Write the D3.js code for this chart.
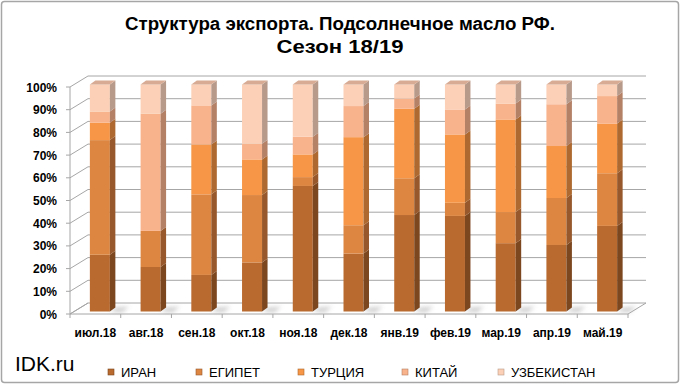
<!DOCTYPE html>
<html><head><meta charset="utf-8">
<script src="https://cdn.jsdelivr.net/npm/d3@7/dist/d3.min.js"></script>
<style>
html,body{margin:0;padding:0;background:#fff;}
svg{display:block;}
</style></head>
<body>
<svg id="c" width="680" height="384"></svg>
<script>
const titleLines = ["Структура экспорта. Подсолнечное масло РФ.", "Сезон 18/19"];
const categories = ["июл.18","авг.18","сен.18","окт.18","ноя.18","дек.18","янв.19","фев.19","мар.19","апр.19","май.19"];
const seriesNames = ["ИРАН","ЕГИПЕТ","ТУРЦИЯ","КИТАЙ","УЗБЕКИСТАН"];
const iran   = [25.0, 19.6, 16.1, 21.6, 55.3, 25.5, 42.5, 42.1, 30.1, 29.3, 37.7];
const egypt  = [50.5, 15.9, 35.5, 29.7,  3.9, 12.5, 16.2,  5.8, 13.7, 20.7, 23.2];
const turkey = [ 7.7,  0.0, 22.0, 15.7, 10.0, 38.8, 30.6, 30.1, 40.8, 22.9, 21.9];
const china  = [ 4.9, 51.6, 17.2,  6.9,  7.8, 13.7,  4.5, 11.0,  7.0, 18.4, 12.1];
const uzbek  = [11.9, 12.9,  9.2, 26.1, 23.0,  9.5,  6.2, 11.0,  8.4,  8.7,  5.1];
const yTicks = [0,0.1,0.2,0.3,0.4,0.5,0.6,0.7,0.8,0.9,1];

const frontColors = ["#b96a2f","#dc8642","#f79646","#f9b38c","#fcd0b6"];
const sideColors  = ["#7c461f","#97592b","#ad692f","#b48066","#b89a8a"];
const topColors   = ["#a86a45","#c08660","#cf9a78","#d4a48a","#d8ab94"];

const svg = d3.select("#c");
const F = "'Liberation Sans', Arial, sans-serif";

// border
svg.append("rect").attr("x",1.5).attr("y",1.5).attr("width",677).attr("height",381)
  .attr("rx",3).attr("fill","#fff").attr("stroke","#a6a6a6").attr("stroke-width",1.5);

// title
const tw = [430, 127];
titleLines.forEach((t,i)=>{
  svg.append("text").attr("x",340).attr("y",30 + i*23).attr("text-anchor","middle")
    .attr("font-family",F).attr("font-weight","bold").attr("font-size",18)
    .attr("textLength",tw[i]).attr("lengthAdjust","spacingAndGlyphs")
    .attr("fill","#000").text(t);
});

// geometry
const x0 = 70, x1 = 628, yBottom = 314, yTop = 87;
const DX = 18, DY = -11;           // wall depth
const BX = 4.5, BY = -2.5;          // bar front offset from front plane
const PX = 5.5, PY = -4;            // bar depth

const xScale = d3.scaleBand().domain(categories).range([x0, x1]);
const yScale = d3.scaleLinear().domain([0,1]).range([yBottom, yTop]);
const barW = 20;

const table = categories.map((c,i)=>({cat:c, "ИРАН":iran[i], "ЕГИПЕТ":egypt[i], "ТУРЦИЯ":turkey[i], "КИТАЙ":china[i], "УЗБЕКИСТАН":uzbek[i]}));
const stacked = d3.stack().keys(seriesNames).offset(d3.stackOffsetExpand)(table);

const grid = svg.append("g").attr("stroke","#a6a6a6").attr("stroke-width",1).attr("fill","none");
// floor
grid.append("path").attr("fill","#fff").attr("d",
  `M${x0},${yBottom}L${x1},${yBottom}L${x1+DX},${yBottom+DY}L${x0+DX},${yBottom+DY}Z`);
// back wall grid lines and side wall lines
yTicks.forEach(v=>{
  const y = yScale(v);
  if (v>0) grid.append("line").attr("x1",x0+DX).attr("x2",x1+DX).attr("y1",y+DY).attr("y2",y+DY);
  grid.append("line").attr("x1",x0).attr("x2",x0+DX).attr("y1",y).attr("y2",y+DY);
});
// left axis line with ticks
grid.append("line").attr("x1",x0).attr("x2",x0).attr("y1",yBottom).attr("y2",yTop);
yTicks.forEach(v=>{
  grid.append("line").attr("x1",x0-4).attr("x2",x0).attr("y1",yScale(v)).attr("y2",yScale(v));
});
// x ticks at category boundaries
categories.forEach((c,i)=>{
  grid.append("line").attr("x1",xScale(c)).attr("x2",xScale(c)).attr("y1",yBottom).attr("y2",yBottom+4);
});
grid.append("line").attr("x1",x1).attr("x2",x1).attr("y1",yBottom).attr("y2",yBottom+4);

// shadows on floor
const defs = svg.append("defs");
defs.append("filter").attr("id","blur").attr("x","-50%").attr("y","-50%").attr("width","200%").attr("height","200%")
  .append("feGaussianBlur").attr("stdDeviation",2);
const shadows = svg.append("g").attr("filter","url(#blur)").attr("fill","#b0b0b0").attr("opacity",0.6);
categories.forEach(c=>{
  const bx = xScale(c) + (xScale.bandwidth()-barW)/2 + BX;
  const by = yBottom + BY;
  shadows.append("path").attr("d",
    `M${bx+barW},${by}L${bx+barW+PX},${by+PY}L${bx+barW+PX+14},${by+PY-1}L${bx+barW+12},${by+1}Z`);
});

// bars
const bars = svg.append("g");
categories.forEach((c,i)=>{
  const bx = xScale(c) + (xScale.bandwidth()-barW)/2 + BX;
  stacked.forEach((s,k)=>{
    const d = s[i];
    if (d[1]-d[0] <= 0) return;
    const ya = yScale(d[0]) + BY, yb = yScale(d[1]) + BY;
    bars.append("rect").attr("x",bx).attr("y",yb).attr("width",barW).attr("height",ya-yb)
      .attr("fill",frontColors[k]);
    bars.append("path").attr("fill",sideColors[k]).attr("d",
      `M${bx+barW},${ya}L${bx+barW+PX},${ya+PY}L${bx+barW+PX},${yb+PY}L${bx+barW},${yb}Z`);
  });
  // top face
  const top = stacked[stacked.length-1][i][1];
  const yt = yScale(top) + BY;
  bars.append("path").attr("fill",topColors[4]).attr("d",
    `M${bx},${yt}L${bx+PX},${yt+PY}L${bx+barW+PX},${yt+PY}L${bx+barW},${yt}Z`);
});

// y labels
svg.append("g").selectAll("text").data(yTicks).join("text")
  .attr("x",57).attr("y",d=>yScale(d)+4.5).attr("text-anchor","end")
  .attr("font-family",F).attr("font-weight","bold").attr("font-size",12).attr("fill","#000")
  .text(d=>d3.format(".0%")(d));

// x labels
svg.append("g").selectAll("text").data(categories).join("text")
  .attr("x",d=>xScale(d)+xScale.bandwidth()/2).attr("y",337).attr("text-anchor","middle")
  .attr("font-family",F).attr("font-weight","bold").attr("font-size",12).attr("fill","#000")
  .text(d=>d);

// watermark
svg.append("text").attr("x",15).attr("y",371).attr("font-family",F).attr("font-size",21)
  .attr("fill","#000").text("IDK.ru");

// legend
const legX = [108, 196, 298, 402, 498];
const lg = svg.append("g");
seriesNames.forEach((n,k)=>{
  lg.append("rect").attr("x",legX[k]).attr("y",369).attr("width",6).attr("height",6)
    .attr("fill",frontColors[k]).attr("stroke",sideColors[k]).attr("stroke-width",0.6);
  lg.append("text").attr("x",legX[k]+13).attr("y",377)
    .attr("font-family","'Liberation Sans Narrow', 'Arial Narrow', "+F).attr("font-size",13)
    .attr("fill","#000").text(n);
});
</script>
</body></html>
